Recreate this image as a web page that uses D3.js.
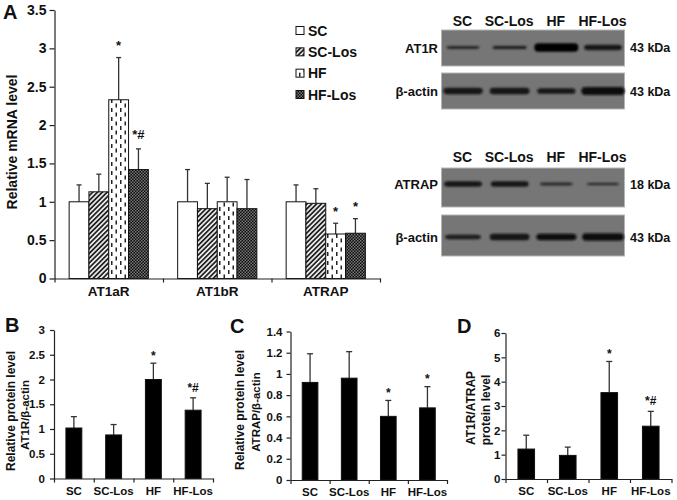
<!DOCTYPE html>
<html>
<head>
<meta charset="utf-8">
<script src="https://cdn.jsdelivr.net/npm/d3@7"></script>
<style>
body { margin: 0; background: #fff; }
text { font-family: "Liberation Sans", Arial, sans-serif; font-weight: bold; fill: #111; }
</style>
</head>
<body>
<div id="the_chart"></div>
<script>
var groups = ["SC", "SC-Los", "HF", "HF-Los"];

// panel A, relative mRNA
var genes = ["AT1aR", "AT1bR", "ATRAP"];
var mrna_mean = [[1, 1.13, 2.33, 1.42], [1, 0.91, 1, 0.91], [1, 0.98, 0.58, 0.59]];
var mrna_top = [[1.22, 1.36, 2.88, 1.69], [1.42, 1.24, 1.32, 1.29], [1.22, 1.17, 0.72, 0.78]];
var mrna_marks = [["", "", "*", "*#"], ["", "", "", ""], ["", "", "*", "*"]];
var mrna_ticks = [0, 0.5, 1, 1.5, 2, 2.5, 3, 3.5];

// panels B, C, D
var b_mean = [1.02, 0.88, 2.0, 1.38];
var b_top = [1.25, 1.09, 2.33, 1.63];
var b_marks = ["", "", "*", "*#"];
var b_ticks = [0, 0.5, 1, 1.5, 2, 2.5, 3];

var c_mean = [0.92, 0.96, 0.6, 0.68];
var c_top = [1.19, 1.21, 0.75, 0.88];
var c_marks = ["", "", "*", "*"];
var c_ticks = [0, 0.2, 0.4, 0.6, 0.8, 1, 1.2, 1.4];

var d_mean = [1.23, 0.97, 3.55, 2.17];
var d_top = [1.8, 1.31, 4.83, 2.78];
var d_marks = ["", "", "*", "*#"];
var d_ticks = [0, 1, 2, 3, 4, 5, 6];

// western blots, band density per lane (0-1)
var at1r_bands = [0.25, 0.35, 1, 0.6];
var actin1_bands = [0.7, 0.72, 0.62, 0.95];
var atrap_bands = [0.6, 0.6, 0.25, 0.2];
var actin2_bands = [0.45, 0.72, 0.75, 0.85];

var w = 677, h = 500;
var svg = d3.select("#the_chart").append("svg")
    .attr("width", w)
    .attr("height", h);

var defs = svg.append("defs");
var hatch = defs.append("pattern").attr("id", "hatch")
    .attr("patternUnits", "userSpaceOnUse")
    .attr("width", 3.4).attr("height", 3.4)
    .attr("patternTransform", "rotate(45)");
hatch.append("rect").attr("width", 3.4).attr("height", 3.4).attr("fill", "#e8e8e8");
hatch.append("rect").attr("width", 1.7).attr("height", 3.4).attr("fill", "#222");

var dash = defs.append("pattern").attr("id", "dash")
    .attr("patternUnits", "userSpaceOnUse")
    .attr("width", 9).attr("height", 9);
dash.append("rect").attr("width", 9).attr("height", 9).attr("fill", "#fff");
dash.append("rect").attr("x", 3).attr("y", 0).attr("width", 1.5).attr("height", 4).attr("fill", "#222");
dash.append("rect").attr("x", 7.5).attr("y", 4.5).attr("width", 1.5).attr("height", 4).attr("fill", "#222");

var check = defs.append("pattern").attr("id", "check")
    .attr("patternUnits", "userSpaceOnUse")
    .attr("width", 3).attr("height", 3);
check.append("rect").attr("width", 3).attr("height", 3).attr("fill", "#0c0c0c");
check.append("rect").attr("width", 1.5).attr("height", 1.5).attr("fill", "#777");
check.append("rect").attr("x", 1.5).attr("y", 1.5).attr("width", 1.5).attr("height", 1.5).attr("fill", "#777");

var blur = defs.append("filter").attr("id", "soft")
    .attr("x", "-20%").attr("y", "-100%").attr("width", "140%").attr("height", "300%");
blur.append("feGaussianBlur").attr("stdDeviation", 0.8);

var fills = ["#fff", "url(#hatch)", "url(#dash)", "url(#check)"];

function draw_y_axis(g, yscale, ticks, left, size, tick_len, pad) {
    var axis = d3.axisLeft(yscale)
        .tickValues(ticks)
        .tickSize(tick_len)
        .tickPadding(pad)
        .tickSizeOuter(0)
        .tickFormat(function (d) { return d; });
    var a = g.append("g")
        .attr("transform", "translate(" + left + ",0)")
        .call(axis);
    a.selectAll("text").attr("font-size", size);
    a.selectAll("path,line").attr("stroke", "#222").attr("stroke-width", 1.2);
}

function draw_x_axis(g, xscale, bottom, size, label_dy) {
    var edges = d3.scaleLinear()
        .domain([0, xscale.domain().length])
        .range(xscale.range());
    var a = g.append("g")
        .attr("transform", "translate(0," + bottom + ")")
        .call(d3.axisBottom(edges)
            .ticks(xscale.domain().length)
            .tickSize(4)
            .tickSizeOuter(0)
            .tickFormat(""));
    a.selectAll("path,line").attr("stroke", "#222").attr("stroke-width", 1.2);
    g.append("g").selectAll("text")
        .data(xscale.domain())
        .enter().append("text")
        .attr("x", function (d) { return xscale(d) + xscale.bandwidth() / 2; })
        .attr("y", bottom + label_dy)
        .attr("text-anchor", "middle")
        .attr("font-size", size)
        .text(function (d) { return d; });
}

function draw_bars(g, xscale, yscale, mean, top, marks, fill, cap, mark_size, mark_gap) {
    var names = xscale.domain();
    g.selectAll("line.err")
        .data(top)
        .enter().append("line")
        .attr("class", "err")
        .attr("x1", function (d, i) { return xscale(names[i]) + xscale.bandwidth() / 2; })
        .attr("x2", function (d, i) { return xscale(names[i]) + xscale.bandwidth() / 2; })
        .attr("y1", function (d, i) { return yscale(mean[i]); })
        .attr("y2", function (d) { return yscale(d); })
        .attr("stroke", "#333")
        .attr("stroke-width", 1.3);
    g.selectAll("line.cap")
        .data(top)
        .enter().append("line")
        .attr("class", "cap")
        .attr("x1", function (d, i) { return xscale(names[i]) + xscale.bandwidth() / 2 - cap; })
        .attr("x2", function (d, i) { return xscale(names[i]) + xscale.bandwidth() / 2 + cap; })
        .attr("y1", function (d) { return yscale(d); })
        .attr("y2", function (d) { return yscale(d); })
        .attr("stroke", "#333")
        .attr("stroke-width", 1.3);
    g.selectAll("rect")
        .data(mean)
        .enter().append("rect")
        .attr("x", function (d, i) { return xscale(names[i]); })
        .attr("y", function (d) { return yscale(d); })
        .attr("width", xscale.bandwidth())
        .attr("height", function (d) { return yscale(0) - yscale(d); })
        .attr("fill", fill)
        .attr("stroke", "#111")
        .attr("stroke-width", 1);
    // the *# labels sit a little higher than the plain stars
    g.selectAll("text.mark")
        .data(marks)
        .enter().append("text")
        .attr("class", "mark")
        .attr("x", function (d, i) { return xscale(names[i]) + xscale.bandwidth() / 2; })
        .attr("y", function (d, i) { return yscale(top[i]) - mark_gap - (d.length > 1 ? 2.5 : 0); })
        .attr("text-anchor", "middle")
        .attr("font-size", mark_size)
        .text(function (d) { return d; });
}

function y_title(x, y, size, label) {
    svg.append("text")
        .attr("transform", "translate(" + x + "," + y + ") rotate(-90)")
        .attr("text-anchor", "middle")
        .attr("font-size", size)
        .text(label);
}

function panel_letter(x, y, label) {
    svg.append("text").attr("x", x).attr("y", y)
        .attr("font-size", 20)
        .text(label);
}

// panel A
var a_y = d3.scaleLinear().domain([0, 3.5]).range([278.5, 10]);
var a_x = d3.scaleBand().domain(genes).range([54.5, 380]).paddingInner(0.27).paddingOuter(0.135);
var a_g = svg.append("g");
draw_y_axis(a_g, a_y, mrna_ticks, 54.5, 14, 5, 3);
genes.forEach(function (gene, k) {
    var inner = d3.scaleBand().domain(groups)
        .range([a_x(gene), a_x(gene) + a_x.bandwidth()]);
    var g = a_g.append("g");
    groups.forEach(function (group, i) {
        var one = d3.scaleBand().domain([group]).range([inner(group), inner(group) + inner.bandwidth()]);
        draw_bars(g.append("g"), one, a_y, [mrna_mean[k][i]], [mrna_top[k][i]],
            [mrna_marks[k][i]], fills[i], 2.5, 13, 7.5);
    });
});
draw_x_axis(a_g, d3.scaleBand().domain(genes).range([54.5, 380]), 278.5, 13.5, 17);
y_title(17, 142, 14, "Relative mRNA level");
panel_letter(3, 19, "A");

// legend
var legend_y = d3.scalePoint().domain(groups).range([30, 94]);
var legend = svg.append("g").selectAll("g")
    .data(groups)
    .enter().append("g")
    .attr("transform", function (d) { return "translate(296," + legend_y(d) + ")"; });
legend.append("rect")
    .attr("y", -3.5).attr("width", 8).attr("height", 8)
    .attr("fill", function (d, i) { return fills[i]; })
    .attr("stroke", "#111");
legend.append("text")
    .attr("x", 12).attr("y", 5.5)
    .attr("font-size", 14)
    .text(function (d) { return d; });

// panels B, C, D
function small_panel(left, right, bottom, top_px, ymax, ticks, mean, top, marks, pad) {
    var y = d3.scaleLinear().domain([0, ymax]).range([bottom, top_px]);
    var x = d3.scaleBand().domain(groups).range([left, right]).paddingInner(0.6).paddingOuter(0.3);
    var g = svg.append("g");
    draw_y_axis(g, y, ticks, left, 11.5, 4, pad);
    draw_bars(g.append("g"), x, y, mean, top, marks, "#000", 3, 12, 3.5);
    draw_x_axis(g, d3.scaleBand().domain(groups).range([left, right]), bottom, 11.5, 16);
}

small_panel(54, 213, 478.5, 330, 3, b_ticks, b_mean, b_top, b_marks, 5);
y_title(15, 411, 12, "Relative protein level");
y_title(28.5, 415, 11.5, "AT1R/β-actin");
panel_letter(5, 332, "B");

small_panel(290.5, 447, 480, 331.5, 1.4, c_ticks, c_mean, c_top, c_marks, 4);
y_title(244, 410, 12, "Relative protein level");
y_title(260, 412, 11.5, "ATRAP/β-actin");
panel_letter(230, 333, "C");

small_panel(505.5, 671.5, 479, 333, 6, d_ticks, d_mean, d_top, d_marks, 1);
y_title(475, 408, 12, "AT1R/ATRAP");
y_title(490, 410, 12, "protein level");
panel_letter(457, 333, "D");

// western blots
var lane = d3.scalePoint().domain(groups).range([463, 603]);
var band_w = d3.scaleLinear().domain([0.2, 1]).range([32, 44]);
var band_h = d3.scaleLinear().domain([0.2, 1]).range([2.6, 8.5]);
var band_c = d3.scaleLinear().domain([0.2, 1]).range(["#2a2a2a", "#060606"]);

function draw_blot(y0, y1, band_y, bands, name, kda) {
    var g = svg.append("g");
    g.append("rect")
        .attr("x", 441.5).attr("y", y0)
        .attr("width", 183).attr("height", y1 - y0)
        .attr("fill", "#767676")
        .attr("stroke", "#b5b5b5");
    g.selectAll("rect.band")
        .data(bands)
        .enter().append("rect")
        .attr("class", "band")
        .attr("x", function (d, i) { return lane(groups[i]) - band_w(d) / 2; })
        .attr("y", function (d) { return band_y - band_h(d) / 2; })
        .attr("width", function (d) { return band_w(d); })
        .attr("height", function (d) { return band_h(d); })
        .attr("rx", 4)
        .attr("fill", function (d) { return band_c(d); })
        .attr("filter", "url(#soft)");
    g.append("text")
        .attr("x", 438).attr("y", band_y + 5)
        .attr("text-anchor", "end")
        .attr("font-size", 13)
        .text(name);
    g.append("text")
        .attr("x", 630).attr("y", band_y + 4.5)
        .attr("font-size", 12.5)
        .text(kda);
}

function blot_header(y) {
    svg.append("g").selectAll("text")
        .data(groups)
        .enter().append("text")
        .attr("x", function (d) { return lane(d) - 0.5; })
        .attr("y", y)
        .attr("text-anchor", "middle")
        .attr("font-size", 14)
        .text(function (d) { return d; });
}

blot_header(26);
draw_blot(30, 66, 47.5, at1r_bands, "AT1R", "43 kDa");
draw_blot(73, 109, 91, actin1_bands, "β-actin", "43 kDa");
blot_header(162);
draw_blot(168, 207, 184, atrap_bands, "ATRAP", "18 kDa");
draw_blot(215, 256, 237, actin2_bands, "β-actin", "43 kDa");
</script>
</body>
</html>
